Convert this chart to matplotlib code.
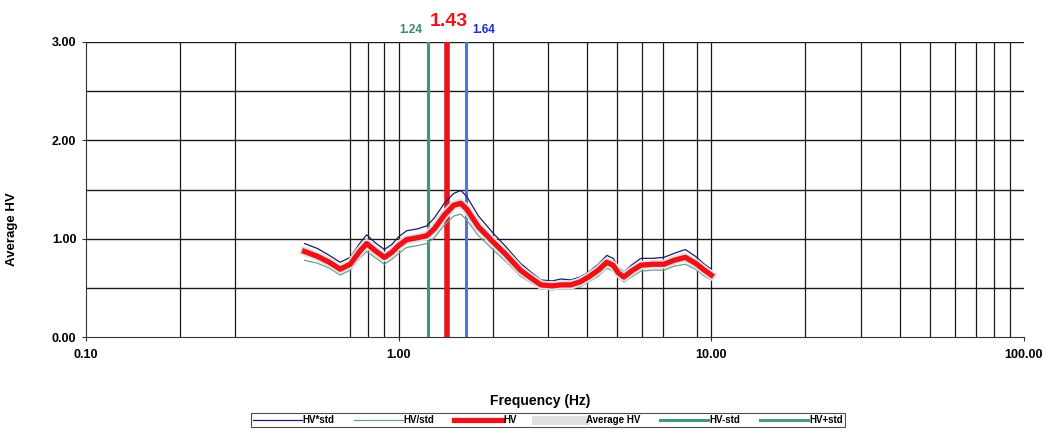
import matplotlib
matplotlib.use("Agg")
import matplotlib.pyplot as plt
from matplotlib.ticker import FixedLocator, NullLocator

plt.rcParams['font.family'] = ['Liberation Sans', 'DejaVu Sans']

# ---- data ----
freq = [0.50, 0.55, 0.60, 0.65, 0.70, 0.75, 0.79, 0.84, 0.90, 0.95, 1.00, 1.06,
        1.15, 1.23, 1.30, 1.40, 1.50, 1.58, 1.65, 1.80, 2.00, 2.20, 2.45, 2.65,
        2.85, 3.10, 3.30, 3.55, 3.80, 4.05, 4.35, 4.63, 4.85, 5.05, 5.25, 5.55,
        5.95, 6.50, 7.05, 7.60, 8.25, 8.90, 9.50, 10.0]
hv = [0.87, 0.82, 0.76, 0.69, 0.74, 0.87, 0.95, 0.88, 0.81, 0.86, 0.93, 0.99,
      1.01, 1.03, 1.10, 1.24, 1.34, 1.36, 1.30, 1.12, 0.97, 0.84, 0.68, 0.60,
      0.53, 0.52, 0.53, 0.53, 0.56, 0.61, 0.68, 0.76, 0.73, 0.65, 0.61, 0.67,
      0.73, 0.74, 0.74, 0.78, 0.81, 0.75, 0.68, 0.63]
hv_times_std = [0.95, 0.90, 0.83, 0.76, 0.81, 0.95, 1.04, 0.96, 0.89, 0.94, 1.02, 1.08,
                1.10, 1.13, 1.21, 1.36, 1.46, 1.49, 1.43, 1.23, 1.06, 0.92, 0.75, 0.66,
                0.58, 0.57, 0.59, 0.58, 0.61, 0.66, 0.74, 0.83, 0.80, 0.71, 0.66, 0.73,
                0.80, 0.80, 0.81, 0.85, 0.89, 0.82, 0.74, 0.69]
hv_div_std = [0.78, 0.75, 0.70, 0.63, 0.68, 0.80, 0.87, 0.81, 0.74, 0.79, 0.85, 0.91,
              0.93, 0.95, 1.01, 1.14, 1.23, 1.25, 1.19, 1.03, 0.89, 0.77, 0.62, 0.55,
              0.49, 0.48, 0.49, 0.49, 0.51, 0.56, 0.62, 0.70, 0.67, 0.60, 0.56, 0.61,
              0.67, 0.68, 0.68, 0.72, 0.74, 0.69, 0.62, 0.58]
peak_f0 = 1.43
f0_minus = 1.24
f0_plus = 1.64
x_ticks = [0.1, 1, 10, 100]
x_tick_labels = ["0.10", "1.00", "10.00", "100.00"]
y_ticks = [0, 1, 2, 3]
y_tick_labels = ["0.00", "1.00", "2.00", "3.00"]
# vertical grid lines that are visible in the reference
x_grid = [0.2, 0.3, 0.7, 0.8, 0.9, 1, 2, 3, 4, 5, 6, 7, 9, 10,
          20, 30, 40, 50, 60, 70, 80, 90]
y_grid = [0.5, 1.0, 1.5, 2.0, 2.5, 3.0]

fig = plt.figure(figsize=(10.47, 4.34), dpi=100)
ax = fig.add_axes([86/1047, 1-337/434, (1024-86)/1047, (337-42)/434])
ax.set_xscale('log')
ax.set_xlim(0.1, 100)
ax.set_ylim(0, 3)

for g in x_grid:
    ax.axvline(g, color='#1a1a1a', lw=0.9, zorder=1)
for g in y_grid:
    ax.axhline(g, color='#1a1a1a', lw=1.0, zorder=1)

ax.axvline(f0_minus, color='#3a9a6a', lw=2.2, zorder=3)
ax.axvline(peak_f0, color='#e8141c', lw=4.0, zorder=3)
ax.axvline(f0_plus, color='#4a78d8', lw=2.2, zorder=3)

l1, = ax.plot(freq, hv_times_std, color='#1c1c6a', lw=0.9, zorder=4, label='HV*std')
l2, = ax.plot(freq, hv_div_std, color='#6e9c8e', lw=0.9, zorder=4, label='HV/std')
l4, = ax.plot(freq, hv, color='#e0e0e0', lw=6.5, zorder=4, label='Average HV')
l3, = ax.plot(freq, hv, color='#f01018', lw=3.8, zorder=5, label='HV')
l5, = ax.plot([], [], color='#3a9a7a', lw=2.2, label='HV-std')
l6, = ax.plot([], [], color='#4a9a7e', lw=2.2, label='HV+std')

ax.xaxis.set_major_locator(FixedLocator(x_ticks))
ax.xaxis.set_minor_locator(NullLocator())
ax.set_xticklabels(x_tick_labels)
ax.set_yticks(y_ticks)
ax.set_yticklabels(y_tick_labels)
ax.tick_params(axis='both', direction='out', length=3, width=0.8, color='#333',
               labelsize=9)
ax.tick_params(axis='x', pad=6)
ax.tick_params(axis='y', pad=4)
for t in ax.get_xticklabels() + ax.get_yticklabels():
    t.set_fontweight('bold')

ax.spines['top'].set_visible(False)
ax.spines['right'].set_visible(False)
ax.spines['left'].set_color('#333')
ax.spines['bottom'].set_color('#333')

ax.set_xlabel('Frequency (Hz)', fontsize=10, fontweight='bold')
ax.xaxis.set_label_coords((540-86)/(1024-86), -(394-337)/(337-42))
ax.set_ylabel('Average HV', fontsize=9.5, fontweight='bold')
ax.yaxis.set_label_coords(-(86-18)/(1024-86), (337-229)/(337-42))

ax.text(f0_minus / 1.045, 3.06, f"{f0_minus:.2f}", color='#3a8a70', fontsize=8.5,
        fontweight='bold', ha='right', va='bottom')
ax.text(peak_f0 * 1.01, 3.12, f"{peak_f0:.2f}", color='#f01018', fontsize=14,
        fontweight='bold', ha='center', va='bottom')
ax.text(f0_plus * 1.05, 3.06, f"{f0_plus:.2f}", color='#1a2ad0', fontsize=8.5,
        fontweight='bold', ha='left', va='bottom')

leg = fig.legend(handles=[l1, l2, l3, l4, l5, l6], loc='center',
                 bbox_to_anchor=(548/1047, 1-420/434), ncol=6, fontsize=7,
                 frameon=True, fancybox=False, edgecolor='#222',
                 handlelength=5.0, handletextpad=0.1, columnspacing=2.0,
                 borderpad=0.25)
leg.get_frame().set_linewidth(0.8)
for t in leg.get_texts():
    t.set_fontweight('bold')

fig.savefig('out.png', dpi=100)
